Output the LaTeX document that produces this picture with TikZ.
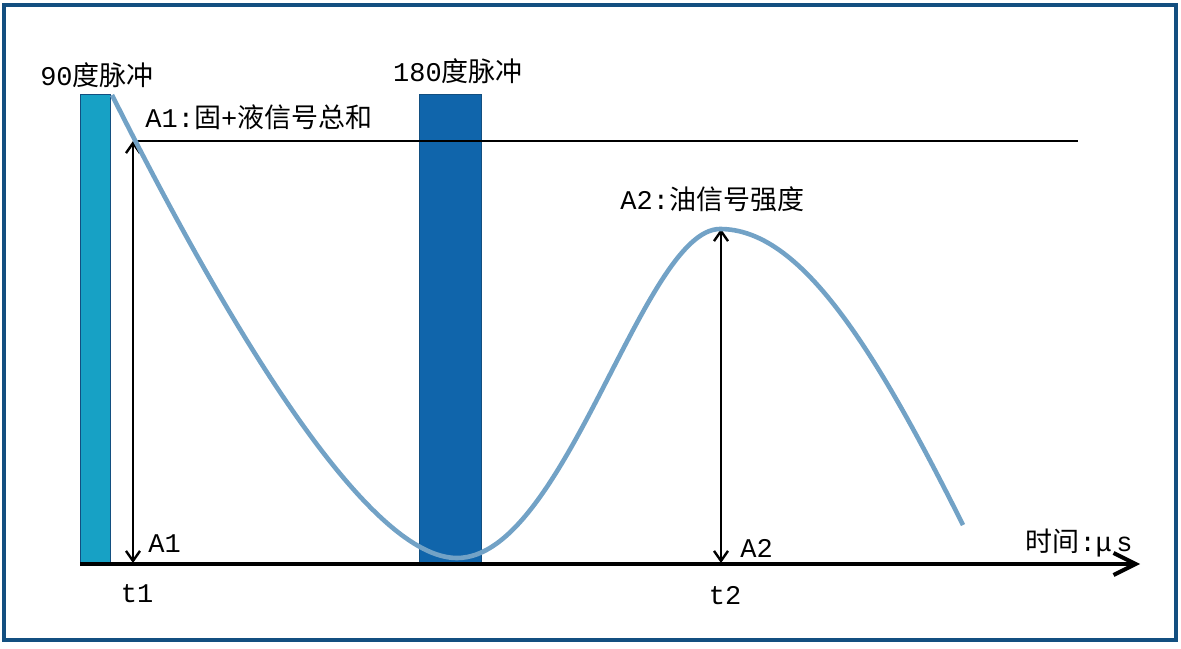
\documentclass[tikz,border=0pt]{standalone}
\usepackage{fontspec}
\setmainfont{Liberation Mono}
\newfontfamily\cjk{Noto Sans CJK SC}
\usetikzlibrary{arrows.meta,positioning}
\definecolor{framecol}{HTML}{134F80}
\definecolor{pulseA}{HTML}{17A1C5}
\definecolor{pulseB}{HTML}{1065AB}
\definecolor{echo}{HTML}{72A2C6}
\tikzstyle{pulse}=[draw=framecol,line width=0.6pt,inner sep=0pt,minimum height=234pt,anchor=south west]
\tikzstyle{txt}=[inner sep=0pt,font=\fontsize{13.5}{15}\selectfont]
\tikzstyle{amparrow}=[line width=1.2pt,{Straight Barb[length=5pt,width=7pt]}-{Straight Barb[length=5pt,width=7pt]}]
\tikzstyle{axis}=[line width=2pt,-{Straight Barb[length=11pt,width=11pt,line width=2pt]}]
\begin{document}
\begin{tikzpicture}[
x=0.5pt,y=-0.5pt
]
\useasboundingbox (0,0) rectangle (1181,648);
%frame
\draw[framecol,line width=2.2pt] (4,5) rectangle (1176,640);
%pulses
\node[pulse,fill=pulseA,minimum width=15pt] (p90) at (80,563) {};
\node[pulse,fill=pulseB,minimum width=31pt] (p180) at (419,563) {};
%reference points
\coordinate (a1top) at (133,141);
\coordinate (a1bot) at (133,563);
\coordinate (a2top) at (721,229);
\coordinate (a2bot) at (721,563);
\coordinate (lvlend) at (1078,141);
\coordinate (origin) at (80,564);
\coordinate (tend) at (1140,564);
%level and axis
\draw[line width=1.4pt] (a1top) -- (lvlend);
\draw[axis] (origin) -- (tend);
\draw[amparrow] (a1bot) -- (a1top);
\draw[amparrow] (a2bot) -- (a2top);
%echo curve
\draw[echo,line width=2.3pt] (112,95) .. controls (240,350) and (372,558) .. (457,558)
 .. controls (565,558) and (643,229) .. (720,229)
 .. controls (800,229) and (873,345) .. (963,525);
%labels
\node[txt] (l90) at (97,75) {90{\cjk 度脉冲}};
\node[txt] (l180) at (458,71) {180{\cjk 度脉冲}};
\node[txt,anchor=west] (lsum) at (145,117) {A1:{\cjk 固}+{\cjk 液信号总和}};
\node[txt,anchor=west] (loil) at (620,199) {A2:{\cjk 油信号强度}};
\node[txt,anchor=west] (la1) at (148,544) {A1};
\node[txt,anchor=west] (la2) at (740,548) {A2};
\node[txt] (lt1) at (137,594) {t1};
\node[txt] (lt2) at (725,596) {t2};
\node[txt,anchor=east] (ltime) at (1133,543) {{\cjk 时间}:μ\,s};
\end{tikzpicture}
\end{document}
